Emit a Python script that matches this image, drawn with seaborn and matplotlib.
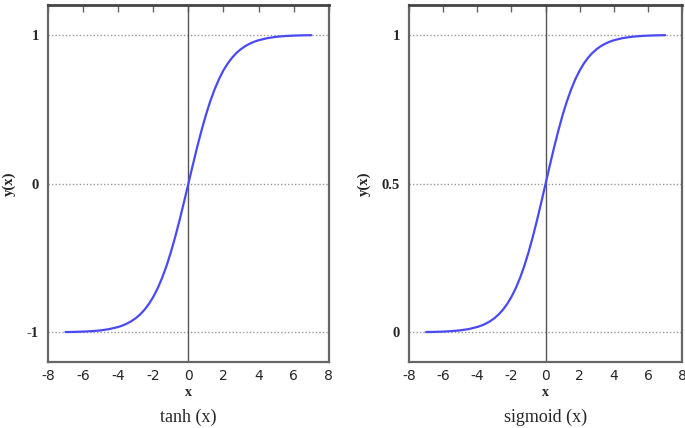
import numpy as np
import pandas as pd
import seaborn as sns
import matplotlib.pyplot as plt

# values
x_vals = [-7, -6.5, -6, -5.5, -5, -4.5, -4, -3.75, -3.5, -3.25, -3, -2.75,
          -2.5, -2.25, -2, -1.75, -1.5, -1.25, -1, -0.75, -0.5, -0.25, 0,
          0.25, 0.5, 0.75, 1, 1.25, 1.5, 1.75, 2, 2.25, 2.5, 2.75, 3, 3.25,
          3.5, 3.75, 4, 4.5, 5, 5.5, 6, 6.5, 7]
tanh_vals = [-0.998, -0.997, -0.995, -0.992, -0.987, -0.978, -0.964, -0.954,
             -0.941, -0.925, -0.905, -0.880, -0.848, -0.809, -0.762, -0.704,
             -0.635, -0.555, -0.462, -0.358, -0.245, -0.124, 0.0,
             0.124, 0.245, 0.358, 0.462, 0.555, 0.635, 0.704, 0.762, 0.809,
             0.848, 0.880, 0.905, 0.925, 0.941, 0.954, 0.964, 0.978, 0.987,
             0.992, 0.995, 0.997, 0.998]
sigmoid_vals = [0.001, 0.0015, 0.0025, 0.0041, 0.0067, 0.011, 0.018, 0.023,
                0.0293, 0.0373, 0.0474, 0.0601, 0.0759, 0.0953, 0.1192,
                0.148, 0.1824, 0.2227, 0.2689, 0.3208, 0.3775, 0.4378, 0.5,
                0.5622, 0.6225, 0.6792, 0.7311, 0.7773, 0.8176, 0.852, 0.8808,
                0.9047, 0.9241, 0.9399, 0.9526, 0.9627, 0.9707, 0.977, 0.982,
                0.989, 0.9933, 0.9959, 0.9975, 0.9985, 0.999]
x_ticks = [-8, -6, -4, -2, 0, 2, 4, 6, 8]
tanh_yticks = [-1, 0, 1]
tanh_ylabels = ['-1', '0', '1']
sig_yticks = [0, 0.5, 1]
sig_ylabels = ['0', '0.5', '1']

sns.set_style('white')
plt.rcParams['axes.unicode_minus'] = False

df = pd.DataFrame({'x': x_vals, 'tanh': tanh_vals, 'sigmoid': sigmoid_vals})

fig = plt.figure(figsize=(6.85, 4.28), dpi=100)
ax1 = fig.add_axes([0.070, 0.154, 0.410, 0.834])
ax2 = fig.add_axes([0.597, 0.154, 0.399, 0.834])

panels = [
    (ax1, 'tanh', (-1.2, 1.2), tanh_yticks, tanh_ylabels, 'tanh (x)'),
    (ax2, 'sigmoid', (-0.1, 1.1), sig_yticks, sig_ylabels, 'sigmoid (x)'),
]

tick_font = ['Liberation Sans Narrow', 'DejaVu Sans']
serif = ['Liberation Serif', 'DejaVu Serif']

for ax, col, ylim, yt, yl, title in panels:
    for yv in yt:
        ax.axhline(yv, color='#999999', lw=1, ls=(0, (1, 1.5)), zorder=1)
    ax.axvline(0, color='#555555', lw=1, zorder=1)
    sns.lineplot(data=df, x='x', y=col, ax=ax, color='#4a4af5', lw=1.6, zorder=3)
    ax.set_xlim(-8, 8)
    ax.set_ylim(*ylim)
    ax.set_xticks(x_ticks)
    ax.set_xticklabels([str(t) for t in x_ticks], family=tick_font, fontsize=10)
    ax.set_yticks(yt)
    ax.set_yticklabels(yl, family=serif, fontweight='bold', fontsize=10.5)
    ax.tick_params(axis='x', direction='in', top=True, length=5, width=1,
                   color='#666666', pad=5)
    ax.tick_params(axis='y', length=0, pad=6.5)
    ax.set_xlabel('x', family=serif, fontweight='bold', fontsize=10, labelpad=2)
    ax.set_ylabel('y(x)', family=serif, fontweight='bold', fontsize=10.5, labelpad=8)
    ax.text(0.5, -0.154, title, transform=ax.transAxes, ha='center', va='center',
            family=serif, fontsize=13)
    for side in ['left', 'right', 'bottom']:
        ax.spines[side].set_color('#666666')
        ax.spines[side].set_linewidth(1.6)
    ax.spines['top'].set_color('#444444')
    ax.spines['top'].set_linewidth(2)

fig.savefig('out.png', dpi=100)
